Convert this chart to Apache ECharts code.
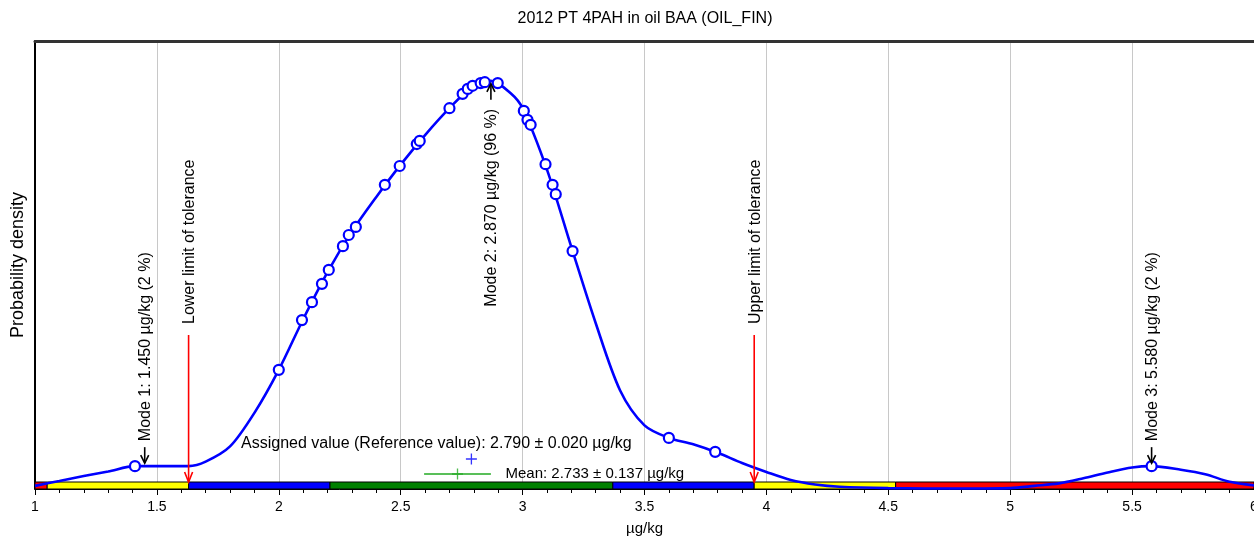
<!DOCTYPE html>
<html><head><meta charset="utf-8">
<script src="https://cdn.jsdelivr.net/npm/echarts@6/dist/echarts.min.js"></script>
<style>html,body{margin:0;padding:0;background:#fff}#c{width:1254px;height:537px}</style>
</head><body><div id="c"></div>
<script>
// ---------- data ----------
const titleText = '2012 PT 4PAH in oil BAA (OIL_FIN)';
const xTickLabels = ['1','1.5','2','2.5','3','3.5','4','4.5','5','5.5','6'];
const curveX = [1.00,1.10,1.20,1.30,1.41,1.50,1.63,1.70,1.80,1.90,2.00,2.10,2.20,2.30,2.40,2.50,2.60,2.70,2.80,2.87,2.95,3.00,3.10,3.20,3.30,3.40,3.50,3.60,3.70,3.80,3.90,4.00,4.10,4.20,4.30,4.50,4.80,5.00,5.10,5.20,5.30,5.40,5.50,5.58,5.70,5.80,5.90,6.00];
const curveY = [0.7,1.8,2.9,3.9,5.1,5.1,5.1,6.1,9.5,17.0,26.6,37.9,48.4,57.5,65.2,72.4,79.0,85.0,90.1,91.1,88.4,85.0,71.3,54.0,37.0,22.0,14.2,11.4,10.0,8.1,5.8,3.8,2.0,1.0,0.5,0.2,0.1,0.2,0.7,1.25,2.4,3.7,4.8,5.1,4.3,3.3,1.6,0.8];
const ptX = [1.41,2.00,2.095,2.136,2.177,2.205,2.263,2.287,2.316,2.435,2.496,2.566,2.578,2.70,2.754,2.775,2.795,2.828,2.845,2.898,3.005,3.02,3.033,3.094,3.123,3.136,3.205,3.60,3.79,5.58];
const ptY = [5.1,26.6,37.7,41.7,45.8,48.9,54.2,56.7,58.5,67.9,72.1,77.0,77.7,85.0,88.2,89.3,90.0,90.6,90.8,90.6,84.4,82.4,81.3,72.5,67.9,65.8,53.1,11.4,8.3,5.1];
const zoneStart = [1.00,1.05,1.63,2.21,3.37,3.95,4.53];
const zoneEnd   = [1.05,1.63,2.21,3.37,3.95,4.53,6.00];
const zoneKind  = ['red','yellow','blue','green','blue','yellow','red'];
const modeX = [1.45, 2.87, 5.58];
const modeY = [5.1, 91.1, 5.1];
const modeLabels = ['Mode 1: 1.450 µg/kg (2 %)','Mode 2: 2.870 µg/kg (96 %)','Mode 3: 5.580 µg/kg (2 %)'];
const tolX = [1.63, 3.95];
const tolLabels = ['Lower limit of tolerance','Upper limit of tolerance'];
const assignedX = 2.79, assignedY = 6.7;
const assignedLabel = 'Assigned value (Reference value): 2.790 ± 0.020 µg/kg';
const meanX = 2.733, meanSd = 0.137, meanY = 3.35;
const meanLabel = 'Mean: 2.733 ± 0.137 µg/kg';

// ---------- styling ----------
const FONT = '"Liberation Sans", Arial, sans-serif';
const zoneColor = {red:'#ff0000', yellow:'#ffff00', blue:'#0000ff', green:'#008000'};
const plusPath = 'path://M4.4,0h1.2v4.4h4.4v1.2h-4.4v4.4h-1.2v-4.4h-4.4v-1.2h4.4z';

function txt(x, y, text, align, rot, size) {
  return {type:'text', x:x, y:y, rotation:rot,
    style:{text:text, fill:'#000', font:(size||16) + 'px ' + FONT, textAlign:align, align:align, textVerticalAlign:'middle', verticalAlign:'middle'}};
}

const chart = echarts.init(document.getElementById('c'), null, {renderer:'canvas'});
chart.setOption({
  animation:false,
  backgroundColor:'#fff',
  title:{text:titleText, left:645, textAlign:'center', top:11, padding:0, textStyle:{fontFamily:FONT, fontSize:16, fontWeight:'normal', color:'#000'}},
  grid:{left:35, right:0, top:41, bottom:48, outerBoundsMode:'none', containLabel:false},
  xAxis:[{
    type:'value', min:1, max:6, interval:0.5, position:'bottom',
    name:'µg/kg', nameLocation:'middle', nameGap:32,
    nameTextStyle:{fontFamily:FONT, fontSize:15, color:'#000'},
    axisLine:{show:true, onZero:false, lineStyle:{color:'#000', width:1}},
    axisTick:{show:true, length:6, lineStyle:{color:'#000'}},
    minorTick:{show:true, splitNumber:5, length:4, lineStyle:{color:'#000'}},
    splitLine:{show:true, lineStyle:{color:'#c8c8c8', width:1}},
    axisLabel:{color:'#000', fontFamily:FONT, fontSize:14, margin:11, hideOverlap:false,
      formatter:function(v){ const i = Math.round((v-1)/0.5); return xTickLabels[i] || ''; }}
  },{
    type:'value', min:1, max:6, position:'top',
    axisLine:{show:true, onZero:false, lineStyle:{color:'#333', width:3}},
    axisTick:{show:false}, axisLabel:{show:false}, splitLine:{show:false}
  }],
  yAxis:{
    type:'value', min:0, max:100,
    name:'Probability density', nameLocation:'middle', nameGap:8, nameRotate:90,
    nameTextStyle:{fontFamily:FONT, fontSize:18, color:'#000'},
    axisLine:{show:true, lineStyle:{color:'#000', width:2}},
    axisTick:{show:false}, axisLabel:{show:false}, splitLine:{show:false}
  },
  series:[
    { // colour band of tolerance zones
      type:'custom', z:1, silent:true,
      data: zoneStart.map((s,i)=>[s, zoneEnd[i], i]),
      renderItem:function(params, api){
        const i = params.dataIndex;
        const a = api.coord([zoneStart[i], 0]);
        const b = api.coord([zoneEnd[i], 0]);
        return {type:'rect', shape:{x:a[0], y:a[1]-7, width:b[0]-a[0], height:7},
          style:{fill:zoneColor[zoneKind[i]], stroke:'#000', lineWidth:1}};
      }
    },
    { // density curve
      type:'line', z:3, data: curveX.map((x,i)=>[x, curveY[i]]),
      showSymbol:false, smooth:0.3,
      lineStyle:{color:'#0000ff', width:2.6}
    },
    { // results
      type:'scatter', z:4, data: ptX.map((x,i)=>[x, ptY[i]]),
      symbol:'circle', symbolSize:10,
      itemStyle:{color:'#fff', borderColor:'#0000ff', borderWidth:2.2, opacity:1}
    },
    { // mean error bar
      type:'line', z:4, data:[[meanX-meanSd, meanY],[meanX+meanSd, meanY]],
      showSymbol:false, lineStyle:{color:'#22aa22', width:1.3}
    },
    { // mean marker
      type:'scatter', z:5, data:[[meanX, meanY]], symbol:plusPath, symbolSize:11,
      itemStyle:{color:'#22aa22'}
    },
    { // assigned value marker
      type:'scatter', z:5, data:[[assignedX, assignedY]], symbol:plusPath, symbolSize:11,
      itemStyle:{color:'#0000ff'}
    },
    { // texts of assigned value and mean
      type:'custom', z:6, silent:true,
      data:[[assignedX, assignedY],[meanX, meanY]],
      renderItem:function(params, api){
        if (params.dataIndex === 0) {
          const p = api.coord([assignedX, assignedY]);
          return txt(p[0]-35, p[1]-15, assignedLabel, 'center', 0, 16);
        }
        const p = api.coord([meanX, meanY]);
        return txt(p[0]+48, p[1], meanLabel, 'left', 0, 15);
      }
    },
    { // tolerance limits
      type:'custom', z:6, silent:true,
      data: tolX.map(x=>[x, 0]),
      renderItem:function(params, api){
        const i = params.dataIndex;
        const p = api.coord([tolX[i], 0]);
        const x = p[0], tip = p[1]-7, tail = p[1]-154;
        return {type:'group', children:[
          {type:'line', shape:{x1:x, y1:tail, x2:x, y2:tip}, style:{stroke:'#ff0000', lineWidth:1.6}},
          {type:'polyline', shape:{points:[[x-4,tip-10],[x,tip],[x+4,tip-10]]}, style:{stroke:'#ff0000', fill:null, lineWidth:1.6}},
          txt(x+1, tail-11, tolLabels[i], 'left', Math.PI/2, 16)
        ]};
      }
    },
    { // modes
      type:'custom', z:6, silent:true,
      data: modeX.map((x,i)=>[x, modeY[i]]),
      renderItem:function(params, api){
        const i = params.dataIndex;
        const p = api.coord([modeX[i], modeY[i]]);
        const top = params.coordSys.y;
        const x = p[0];
        if (p[1] - top < 100) {
          const tip = p[1]+3, tail = tip+16;
          return {type:'group', children:[
            {type:'line', shape:{x1:x, y1:tail, x2:x, y2:tip}, style:{stroke:'#000', lineWidth:1.6}},
            {type:'polyline', shape:{points:[[x-4,tip+8],[x,tip],[x+4,tip+8]]}, style:{stroke:'#000', fill:null, lineWidth:1.6}},
            txt(x+1, tail+9, modeLabels[i], 'right', Math.PI/2, 16)
          ]};
        }
        const tip = p[1]-3, tail = tip-16;
        return {type:'group', children:[
          {type:'line', shape:{x1:x, y1:tail, x2:x, y2:tip}, style:{stroke:'#000', lineWidth:1.6}},
          {type:'polyline', shape:{points:[[x-4,tip-8],[x,tip],[x+4,tip-8]]}, style:{stroke:'#000', fill:null, lineWidth:1.6}},
          txt(x+1, tail-6, modeLabels[i], 'left', Math.PI/2, 16)
        ]};
      }
    }
  ]
});
</script></body></html>
